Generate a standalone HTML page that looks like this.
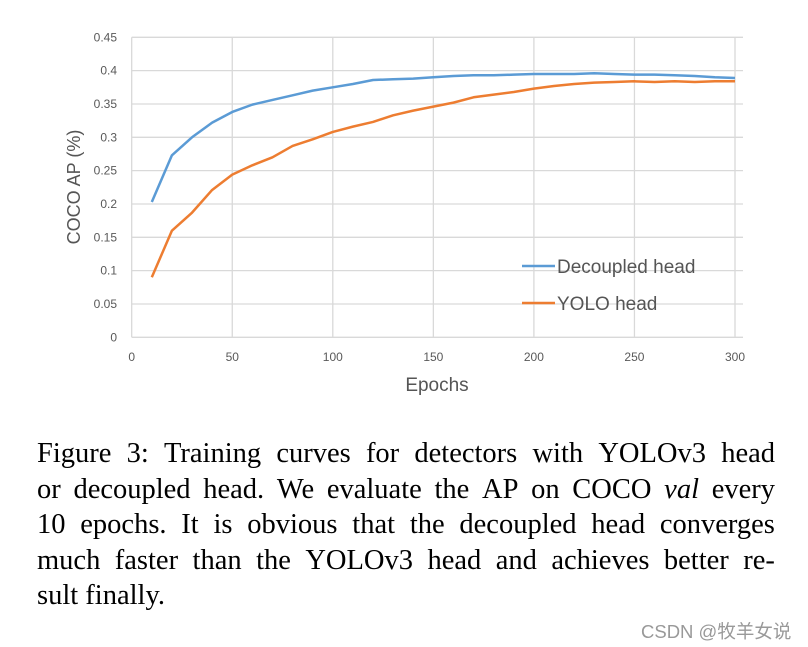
<!DOCTYPE html>
<html><head><meta charset="utf-8"><style>
body{margin:0;width:808px;height:647px;background:#fff;overflow:hidden;position:relative}
svg{position:absolute;left:0;top:0}
.cap{position:absolute;left:37px;top:436px;width:738px;font-family:"Liberation Serif",serif;font-size:28.5px;line-height:35.6px;color:#000}
.cap div{white-space:nowrap}
.wm{position:absolute;left:641px;top:618px;font-family:"Liberation Sans","Noto Sans CJK SC",sans-serif;font-size:18.5px;color:#999}
</style></head><body>
<svg width="808" height="647">
<g id="grid"></g><g id="lines"></g><g id="labels" font-family="Liberation Sans, sans-serif"></g>
<text x="80" y="187" transform="rotate(-90 80 187)" text-anchor="middle" font-family="Liberation Sans, sans-serif" font-size="18" fill="#555">COCO AP (%)</text>
<text x="437" y="391" text-anchor="middle" font-family="Liberation Sans, sans-serif" font-size="19" fill="#555">Epochs</text>
<g font-family="Liberation Sans, sans-serif" font-size="19" fill="#555">
<line x1="522" y1="266" x2="555" y2="266" stroke="#5b9bd5" stroke-width="2.5"/>
<text x="557" y="273">Decoupled head</text>
<line x1="522" y1="303" x2="555" y2="303" stroke="#ed7d31" stroke-width="2.5"/>
<text x="557" y="310">YOLO head</text>
</g>
</svg>
<div class="cap">
<div style="display:flex;justify-content:space-between"><span>Figure</span><span>3:</span><span>Training</span><span>curves</span><span>for</span><span>detectors</span><span>with</span><span>YOLOv3</span><span>head</span></div>
<div style="display:flex;justify-content:space-between"><span>or</span><span>decoupled</span><span>head.</span><span>We</span><span>evaluate</span><span>the</span><span>AP</span><span>on</span><span>COCO</span><i>val</i><span>every</span></div>
<div style="display:flex;justify-content:space-between"><span>10</span><span>epochs.</span><span>It</span><span>is</span><span>obvious</span><span>that</span><span>the</span><span>decoupled</span><span>head</span><span>converges</span></div>
<div style="display:flex;justify-content:space-between"><span>much</span><span>faster</span><span>than</span><span>the</span><span>YOLOv3</span><span>head</span><span>and</span><span>achieves</span><span>better</span><span>re-</span></div>
<div>sult finally.</div>
</div>
<div class="wm">CSDN @牧羊女说</div>
<script>
const epochs=[10,20,30,40,50,60,70,80,90,100,110,120,130,140,150,160,170,180,190,200,210,220,230,240,250,260,270,280,290,300];
const decoupled=[0.203,0.273,0.300,0.322,0.338,0.349,0.356,0.363,0.370,0.375,0.380,0.386,0.387,0.388,0.390,0.392,0.393,0.393,0.394,0.395,0.395,0.395,0.396,0.395,0.394,0.394,0.393,0.392,0.390,0.389];
const yolo=[0.090,0.160,0.187,0.221,0.244,0.258,0.270,0.287,0.297,0.308,0.316,0.323,0.333,0.340,0.346,0.352,0.360,0.364,0.368,0.373,0.377,0.380,0.382,0.383,0.384,0.383,0.384,0.383,0.384,0.384];
const xTicks=[0,50,100,150,200,250,300];
const yTicks=[0,0.05,0.1,0.15,0.2,0.25,0.3,0.35,0.4,0.45];
const NS="http://www.w3.org/2000/svg";
const X=v=>131.7+v*(735-131.7)/300;
const Y=v=>337.3-v*(300/0.45);
const grid=document.getElementById('grid'),lab=document.getElementById('labels'),lines=document.getElementById('lines');
function mk(t,a,p){const e=document.createElementNS(NS,t);for(const k in a)e.setAttribute(k,a[k]);p.appendChild(e);return e;}
yTicks.forEach(v=>{
 const l=mk('line',{x1:X(0),x2:X(300)+8,y1:Y(v),y2:Y(v),stroke:'#d9d9d9','stroke-width':1.3},grid);
 
 
 const t=mk('text',{x:117,y:Y(v)+4,'text-anchor':'end','font-size':12,fill:'#595959'},lab);
 t.textContent=String(v);
 
 
});
xTicks.forEach(v=>{
 const l=mk('line',{x1:X(v),x2:X(v),y1:Y(0.45),y2:Y(0),stroke:'#d9d9d9','stroke-width':1.3},grid);
 
 
 const t=mk('text',{x:X(v),y:361,'text-anchor':'middle','font-size':12,fill:'#595959'},lab);
 t.textContent=String(v);
 
 
});
function series(vals,color,name){
 const p=mk('polyline',{points:epochs.map((e,i)=>X(e)+','+Y(vals[i])).join(' '),fill:'none',stroke:color,'stroke-width':2.5,'stroke-linejoin':'round'},lines);
 
 
}
series(decoupled,'#5b9bd5','decoupled-head-line');
series(yolo,'#ed7d31','yolo-head-line');
</script>
</body></html>
